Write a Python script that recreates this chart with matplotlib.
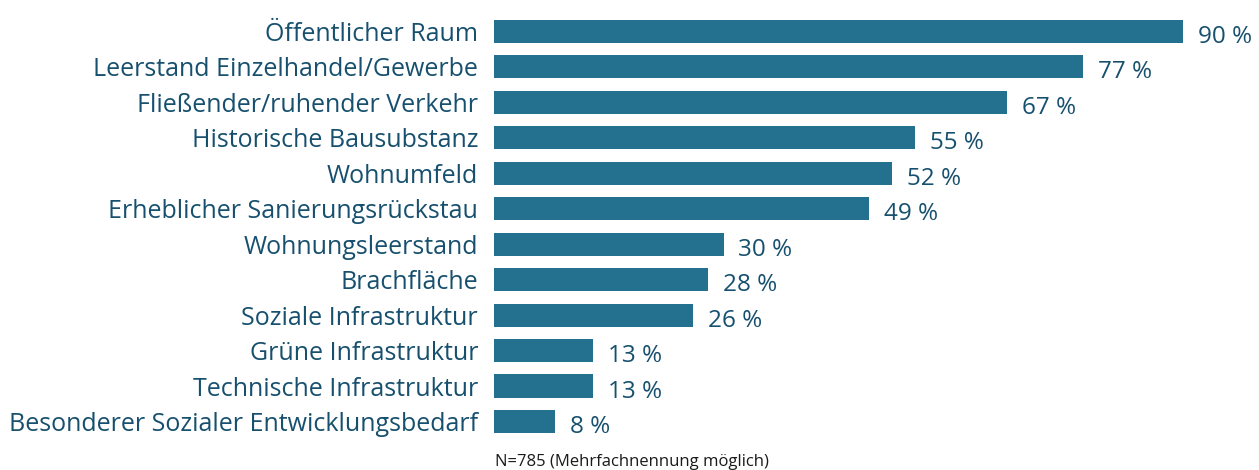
import matplotlib.pyplot as plt

plt.rcParams['font.family'] = ['Open Sans', 'DejaVu Sans']

# data
categories = ['Öffentlicher Raum', 'Leerstand Einzelhandel/Gewerbe',
              'Fließender/ruhender Verkehr', 'Historische Bausubstanz',
              'Wohnumfeld', 'Erheblicher Sanierungsrückstau',
              'Wohnungsleerstand', 'Brachfläche', 'Soziale Infrastruktur',
              'Grüne Infrastruktur', 'Technische Infrastruktur',
              'Besonderer Sozialer Entwicklungsbedarf']
values = [90, 77, 67, 55, 52, 49, 30, 28, 26, 13, 13, 8]
footnote = 'N=785 (Mehrfachnennung möglich)'

bar_color = '#23718f'
text_color = '#17506e'

W, H = 1259, 470
fig = plt.figure(figsize=(W / 100, H / 100), dpi=100)
ax = fig.add_axes([494 / W, 0, 1 - 494 / W, 1])

pos = list(range(len(categories)))
ax.barh(pos, values, height=0.65, color=bar_color)
ax.set_xlim(0, 100)
ax.set_ylim((470 - 31.5) / 35.45, -31.5 / 35.45)
ax.axis('off')

for i, (cat, v) in enumerate(zip(categories, values)):
    # category label left of the bar
    ax.annotate(cat, xy=(0, i), xytext=(-16, -9.5), textcoords='offset pixels',
                ha='right', va='baseline', fontsize=18, color=text_color,
                annotation_clip=False)
    # value label right of the bar
    ax.annotate(f'{v} %', xy=(v, i), xytext=(15, -11.5), textcoords='offset pixels',
                ha='left', va='baseline', fontsize=17.5, color=text_color,
                annotation_clip=False)

fig.text(495 / W, 1 - 466 / H, footnote, ha='left', va='baseline',
         fontsize=12, color='#1a1a1a')

fig.savefig('out.png', dpi=100)
